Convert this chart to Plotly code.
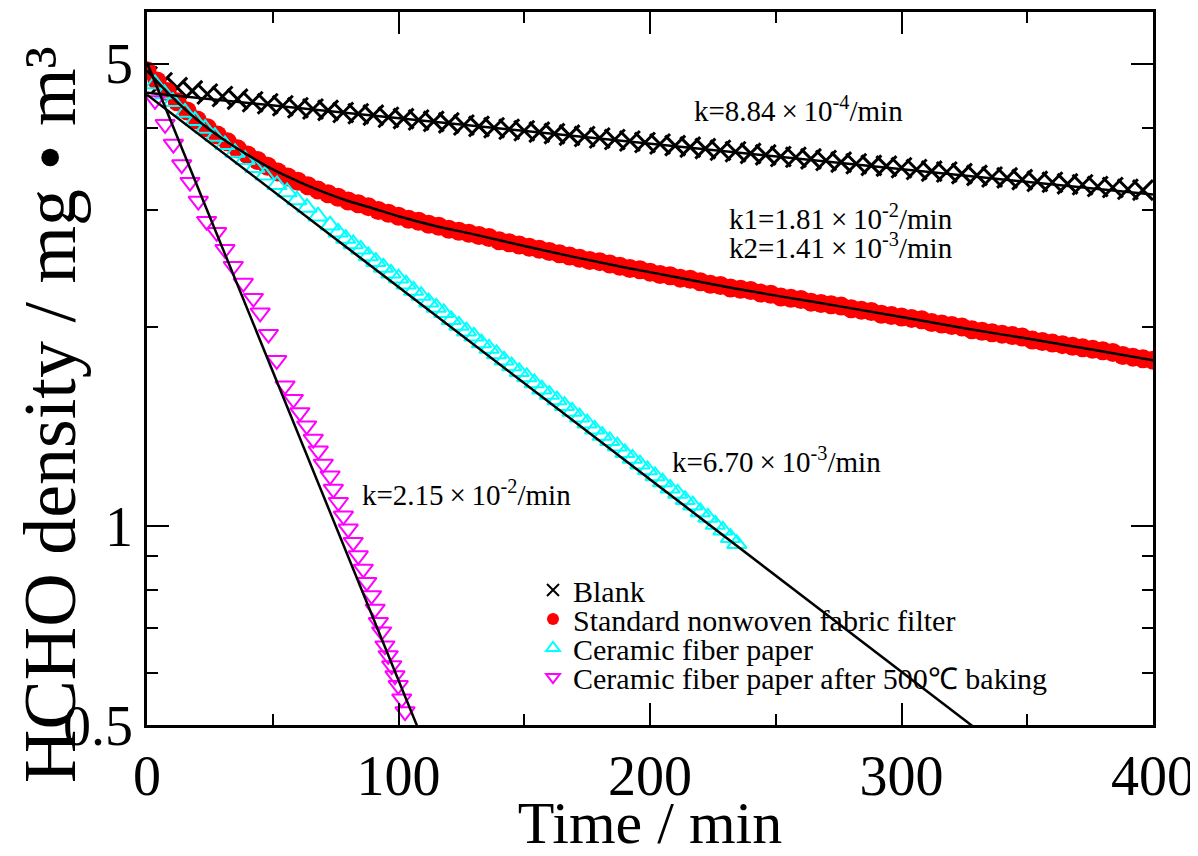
import math
import plotly.graph_objects as go

# ---------------- data ----------------
# Blank: sampled every 6 min from t = 0
blank_step = 6
blank_vals = [4.78, 4.68, 4.60, 4.55, 4.50, 4.46, 4.42, 4.38, 4.35, 4.32,
              4.29, 4.27, 4.25, 4.22, 4.20, 4.18, 4.15, 4.13, 4.11, 4.09,
              4.07, 4.04, 4.02, 4.00, 3.98, 3.96, 3.94, 3.92, 3.90, 3.88,
              3.86, 3.84, 3.82, 3.80, 3.78, 3.76, 3.74, 3.72, 3.70, 3.68,
              3.66, 3.64, 3.62, 3.61, 3.59, 3.57, 3.55, 3.53, 3.51, 3.50,
              3.48, 3.46, 3.44, 3.43, 3.41, 3.39, 3.37, 3.36, 3.34, 3.32,
              3.31, 3.29, 3.28, 3.26, 3.25, 3.23, 3.22]
blank_t = [blank_step * i for i in range(len(blank_vals))]

# Standard nonwoven fabric filter: sampled every 4 min from t = 0
nonwoven_step = 4
nonwoven_vals = [4.88, 4.71, 4.54, 4.38, 4.24, 4.11, 4.00, 3.90, 3.81, 3.72,
                 3.64, 3.57, 3.50, 3.43, 3.37, 3.32, 3.27, 3.22, 3.18, 3.14,
                 3.10, 3.07, 3.04, 3.00, 2.97, 2.94, 2.91, 2.89, 2.86, 2.84,
                 2.81, 2.79, 2.77, 2.75, 2.73, 2.70, 2.68, 2.66, 2.64, 2.62,
                 2.60, 2.58, 2.56, 2.54, 2.52, 2.51, 2.49, 2.47, 2.45, 2.44,
                 2.42, 2.40, 2.39, 2.37, 2.36, 2.34, 2.32, 2.31, 2.29, 2.28,
                 2.27, 2.25, 2.24, 2.22, 2.21, 2.20, 2.18, 2.17, 2.16, 2.15,
                 2.13, 2.12, 2.11, 2.09, 2.08, 2.07, 2.06, 2.05, 2.03, 2.02,
                 2.01, 2.00, 1.98, 1.97, 1.96, 1.95, 1.94, 1.93, 1.91, 1.90,
                 1.89, 1.88, 1.87, 1.86, 1.85, 1.84, 1.83, 1.81, 1.80, 1.79,
                 1.78]
nonwoven_t = [nonwoven_step * i for i in range(len(nonwoven_vals))]

# Ceramic fiber paper
ceramic_t = [3.2, 7.0, 10.3, 15.1, 19.1, 23.1, 27.0, 31.0, 35.0, 39.0,
             42.9, 46.9, 51.7, 55.7, 59.6, 63.6, 68.0, 72.8, 76, 79,
             82, 85, 88, 91, 94, 97, 100, 103, 106, 109,
             112, 115, 118, 121, 124, 127, 130, 133, 136, 139,
             142, 145, 148, 151, 154, 157, 160, 163, 166, 169,
             172, 175, 178, 181, 184, 187, 190, 193, 196, 199,
             202, 205, 208, 211, 214, 217, 220, 223, 226, 229,
             232, 234.5]
ceramic_vals = [4.66, 4.50, 4.38, 4.22, 4.10, 3.99, 3.88, 3.77, 3.67, 3.58,
                3.48, 3.39, 3.28, 3.20, 3.11, 3.03, 2.94, 2.85, 2.78, 2.72,
                2.67, 2.62, 2.56, 2.51, 2.46, 2.41, 2.37, 2.32, 2.27, 2.23,
                2.18, 2.14, 2.10, 2.05, 2.01, 1.97, 1.935, 1.89, 1.855, 1.82,
                1.78, 1.745, 1.71, 1.68, 1.645, 1.61, 1.58, 1.55, 1.52, 1.49,
                1.46, 1.43, 1.40, 1.37, 1.345, 1.32, 1.29, 1.265, 1.24, 1.215,
                1.19, 1.165, 1.14, 1.12, 1.095, 1.075, 1.05, 1.03, 1.005, 0.985,
                0.96, 0.94]

# Ceramic fiber paper after 500 C baking
baked_t = [3.2, 7.2, 10.5, 13.8, 17.1, 20.4, 23.7, 27.7, 31.0, 34.3,
           38.3, 42.3, 45.0, 48.3, 51.6, 54.9, 58.2, 60.8, 63.5, 66.1,
           68.1, 70.1, 72.8, 74.1, 76.1, 78.1, 80.0, 82.0, 84.0, 86.0,
           87.4, 89.3, 90.7, 92.0, 93.3, 94.6, 95.9, 97.3, 98.6, 99.9,
           101.3, 102.6]
baked_vals = [4.40, 4.05, 3.78, 3.52, 3.31, 3.10, 2.89, 2.78, 2.62, 2.47,
              2.33, 2.21, 2.10, 1.95, 1.78, 1.63, 1.555, 1.485, 1.418, 1.353,
              1.299, 1.241, 1.191, 1.137, 1.086, 1.036, 0.990, 0.945, 0.902, 0.861,
              0.822, 0.785, 0.749, 0.715, 0.692, 0.659, 0.637, 0.615, 0.594, 0.574,
              0.548, 0.524]

# Fitted curves (end points of the straight fits on the log scale, points on the curved fit)
fit_blank_t = [0, 400]
fit_blank_v = [4.52, 3.17]
fit_ceramic_t = [0, 400]
fit_ceramic_v = [4.49, 0.308]
fit_baked_t = [0, 120]
fit_baked_v = [5.02, 0.380]
fit_nonwoven_t = [0, 10, 20, 30, 40, 50, 60, 70, 80, 90, 100, 115, 130, 150, 170, 190,
                  210, 230, 250, 275, 300, 325, 350, 375, 400]
fit_nonwoven_v = [4.88, 4.45, 4.11, 3.85, 3.64, 3.46, 3.32, 3.20, 3.10, 3.02, 2.94, 2.84,
                  2.76, 2.65, 2.55, 2.46, 2.38, 2.30, 2.23, 2.15, 2.07, 1.99, 1.92, 1.85, 1.78]

series_names = ["Blank", "Standard nonwoven fabric filter", "Ceramic fiber paper",
                "Ceramic fiber paper after 500\u2103 baking"]

x_ticks = [0, 100, 200, 300, 400]
x_minor = [50, 150, 250, 350]
y_ticks = [0.5, 1, 5]
y_ticktext = ["0.5", "1", "5"]
y_minor = [0.6, 0.7, 0.8, 0.9, 2, 3, 4]

# ---------------- figure ----------------
SERIF = "Liberation Serif"
fig = go.Figure()

fig.add_trace(go.Scatter(x=blank_t, y=blank_vals, mode="markers", name=series_names[0],
                         legend="legend",
                         marker=dict(symbol="x-thin-open", size=20, color="black",
                                     line=dict(width=3, color="black"))))
fig.add_trace(go.Scatter(x=nonwoven_t, y=nonwoven_vals, mode="markers", name=series_names[1],
                         legend="legend2",
                         marker=dict(symbol="circle", size=19, color="#ff0000",
                                     line=dict(width=0))))
fig.add_trace(go.Scatter(x=ceramic_t, y=ceramic_vals, mode="markers", name=series_names[2],
                         legend="legend3",
                         marker=dict(symbol="triangle-up-open", size=17, color="#00ffff",
                                     line=dict(width=2, color="#00ffff"))))
fig.add_trace(go.Scatter(x=baked_t, y=baked_vals, mode="markers", name=series_names[3],
                         legend="legend4",
                         marker=dict(symbol="triangle-down-open", size=17, color="#ff00ff",
                                     line=dict(width=2, color="#ff00ff"))))

line_style = dict(color="black", width=2.5)
fig.add_trace(go.Scatter(x=fit_blank_t, y=fit_blank_v, mode="lines", line=line_style,
                         showlegend=False, hoverinfo="skip"))
fig.add_trace(go.Scatter(x=fit_nonwoven_t, y=fit_nonwoven_v, mode="lines",
                         line=dict(color="black", width=2.5, shape="spline", smoothing=1.0),
                         showlegend=False, hoverinfo="skip"))
fig.add_trace(go.Scatter(x=fit_ceramic_t, y=fit_ceramic_v, mode="lines", line=line_style,
                         showlegend=False, hoverinfo="skip"))
fig.add_trace(go.Scatter(x=fit_baked_t, y=fit_baked_v, mode="lines", line=line_style,
                         showlegend=False, hoverinfo="skip"))

axis_common = dict(showline=True, linecolor="black", linewidth=2.5, mirror="allticks",
                   ticks="inside", tickcolor="black", tickwidth=2, ticklen=22,
                   showgrid=False, zeroline=False, automargin=False)

fig.update_xaxes(range=[0, 400], tickmode="array", tickvals=x_ticks,
                 tickfont=dict(size=56, family=SERIF, color="black"),
                 minor=dict(tickmode="array", tickvals=x_minor, ticks="inside", ticklen=11,
                            tickwidth=2, tickcolor="black", showgrid=False),
                 title=dict(text="Time / min", font=dict(size=60, family=SERIF, color="black"),
                            standoff=10),
                 **axis_common)
fig.update_yaxes(type="log", range=[-0.30103, 0.7772], tickmode="array", tickvals=y_ticks,
                 ticktext=y_ticktext,
                 tickfont=dict(size=56, family=SERIF, color="black"),
                 minor=dict(tickmode="array", tickvals=y_minor, ticks="inside", ticklen=11,
                            tickwidth=2, tickcolor="black", showgrid=False),
                 **axis_common)

# y-axis title (placed as rotated text, centred where the reference has it)
fig.add_annotation(xref="paper", yref="paper", x=-0.0964, y=0.4348,
                   text="HCHO density / mg \u2022 m\u00b3", textangle=-90,
                   showarrow=False, xanchor="center", yanchor="middle",
                   font=dict(size=74, family=SERIF, color="black"))

ann_font = dict(size=29, family=SERIF, color="black")
X = "\u2009\u00d7\u2009"
annotations = [
    (216.7, 4.27, "k=8.84" + X + "10<sup>-4</sup>/min"),
    (230.6, 2.93, "k1=1.81" + X + "10<sup>-2</sup>/min"),
    (230.6, 2.65, "k2=1.41" + X + "10<sup>-3</sup>/min"),
    (208.0, 1.258, "k=6.70" + X + "10<sup>-3</sup>/min"),
    (84.7, 1.121, "k=2.15" + X + "10<sup>-2</sup>/min"),
]
for ax_, ay_, txt in annotations:
    fig.add_annotation(x=ax_, y=math.log10(ay_), text=txt, showarrow=False,
                       xanchor="left", yanchor="middle", font=ann_font)

leg_font = dict(size=30, family=SERIF, color="black")
leg_common = dict(x=0.3837, xanchor="left", yanchor="middle", font=leg_font,
                  bgcolor="rgba(0,0,0,0)", borderwidth=0, itemsizing="constant")

# The page adds an 8 px body margin, so the figure is 8 px smaller and the
# top/left margins 8 px tighter to keep the plot area where the reference has it.
fig.update_layout(
    width=1190, height=848,
    margin=dict(l=139, r=45, t=4, b=131),
    plot_bgcolor="white", paper_bgcolor="white",
    font=dict(family=SERIF, color="black"),
    showlegend=True,
    legend=dict(y=0.1893, **leg_common),
    legend2=dict(y=0.1487, **leg_common),
    legend3=dict(y=0.1080, **leg_common),
    legend4=dict(y=0.0673, **leg_common),
)

fig.write_html("out.html")
